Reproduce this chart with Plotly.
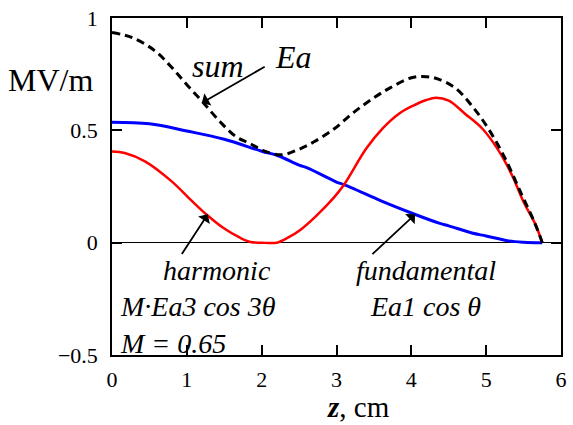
import plotly.graph_objects as go

# z positions (cm) and field values (MV/m)
z_fund = [0, 0.5, 1.0, 1.5, 2.0, 2.22, 2.5, 2.61, 3.0, 3.1, 3.5, 3.58, 4.0, 4.37, 4.5, 4.81, 5.0, 5.3, 5.5, 5.75]
fundamental = [0.536, 0.529, 0.497, 0.46, 0.407, 0.387, 0.345, 0.333, 0.27, 0.258, 0.2, 0.188, 0.132, 0.087, 0.075, 0.043, 0.03, 0.008, 0.002, 0.0]

z_harm = [0, 0.17, 0.44, 0.79, 1.06, 1.27, 1.49, 1.71, 1.85, 2.0, 2.2, 2.35, 2.52, 2.74, 2.97, 3.1, 3.4,
          3.62, 3.84, 4.02, 4.2, 4.33, 4.5, 4.72, 4.95, 5.16, 5.34, 5.51, 5.65, 5.75]
harmonic = [0.406, 0.399, 0.362, 0.275, 0.188, 0.123, 0.065, 0.022, 0.003, 0.0, 0.0, 0.022, 0.058, 0.123,
            0.203, 0.258, 0.42, 0.51, 0.575, 0.609, 0.635, 0.645, 0.632, 0.573, 0.507, 0.413, 0.304, 0.174, 0.087, 0.0]

z_sum = [0, 0.27, 0.57, 0.79, 1.0, 1.22, 1.45, 1.66, 1.84, 2.02, 2.26, 2.48, 2.7, 2.97, 3.23, 3.5, 3.71,
         4.0, 4.2, 4.37, 4.59, 4.81, 5.03, 5.25, 5.47, 5.65, 5.75]
total = [0.935, 0.913, 0.855, 0.783, 0.703, 0.623, 0.536, 0.471, 0.442, 0.41, 0.391, 0.413, 0.449, 0.507,
         0.58, 0.645, 0.688, 0.734, 0.739, 0.727, 0.688, 0.609, 0.507, 0.377, 0.217, 0.087, 0.0]

x_ticks = [0, 1, 2, 3, 4, 5, 6]
y_ticks = [-0.5, 0, 0.5, 1]
y_tick_text = ["\u22120.5", "0", "0.5", "1"]

SERIF = "Liberation Serif, Times New Roman, serif"
ANN = 32
BLOCK = 28

fig = go.Figure()
fig.add_trace(go.Scatter(x=z_fund, y=fundamental, mode="lines", line=dict(color="#0000ff", width=3), line_shape="spline"))
fig.add_trace(go.Scatter(x=z_harm, y=harmonic, mode="lines", line=dict(color="#ff0000", width=2.5), line_shape="spline"))
fig.add_trace(go.Scatter(x=z_sum, y=total, mode="lines", line=dict(color="#000000", width=3, dash="8px,5px"), line_shape="spline"))

def txt(x, y, s, size=ANN, xanchor="center", yanchor="middle", align="center"):
    fig.add_annotation(x=x, y=y, text=s, showarrow=False, xanchor=xanchor, yanchor=yanchor, align=align,
                       font=dict(family=SERIF, size=size, color="black"))

def arrow(x, y, ax, ay):
    fig.add_annotation(x=x, y=y, ax=ax, ay=ay, axref="x", ayref="y", text="", showarrow=True,
                       arrowhead=1, arrowsize=1.3, arrowwidth=1.8, arrowcolor="black")

txt(1.41, 0.787, "<i>sum</i>")
txt(2.43, 0.826, "<i>Ea</i>")
arrow(1.20, 0.622, 2.06, 0.787)

nb = "\u00a0" * 6
txt(0.08, -0.045, "<i>" + nb + "harmonic<br>M\u00b7Ea3 cos 3\u03b8<br>M = 0.65</i>",
    size=BLOCK, xanchor="left", yanchor="top", align="left")
arrow(1.28, 0.126, 0.92, -0.057)

txt(4.2, -0.045, "<i>fundamental<br>Ea1 cos \u03b8</i>", size=BLOCK, xanchor="center", yanchor="top", align="center")
arrow(4.05, 0.126, 3.46, -0.057)

fig.add_annotation(x=-0.138, y=0.726, xref="paper", yref="y", text="MV/m", showarrow=False,
                   xanchor="center", yanchor="middle", font=dict(family=SERIF, size=32, color="black"))
fig.add_annotation(x=0.549, y=-0.154, xref="paper", yref="paper", text="<b><i>z</i></b>, cm", showarrow=False,
                   xanchor="center", yanchor="middle", font=dict(family=SERIF, size=29, color="black"))

fig.update_layout(
    width=573, height=425,
    margin=dict(l=112, r=6, t=10, b=70),
    paper_bgcolor="white", plot_bgcolor="white",
    showlegend=False,
    font=dict(family=SERIF, color="black"),
)
fig.update_xaxes(range=[0, 6], tickvals=x_ticks, ticks="inside", ticklen=10, tickwidth=1.5, tickcolor="black",
                 showline=True, linecolor="black", linewidth=1.5, mirror="ticks", showgrid=False, zeroline=False,
                 ticklabelstandoff=4, ticklabeloverflow="allow",
                 tickfont=dict(family=SERIF, size=22, color="black"))
fig.update_yaxes(range=[-0.5, 1], tickvals=y_ticks, ticktext=y_tick_text, ticks="inside", ticklen=10, tickwidth=1.5,
                 tickcolor="black", showline=True, linecolor="black", linewidth=1.5, mirror="ticks", showgrid=False,
                 zeroline=True, zerolinecolor="black", zerolinewidth=1.2,
                 ticklabelstandoff=8, ticklabeloverflow="allow",
                 tickfont=dict(family=SERIF, size=22, color="black"))

fig.write_html("out.html")
